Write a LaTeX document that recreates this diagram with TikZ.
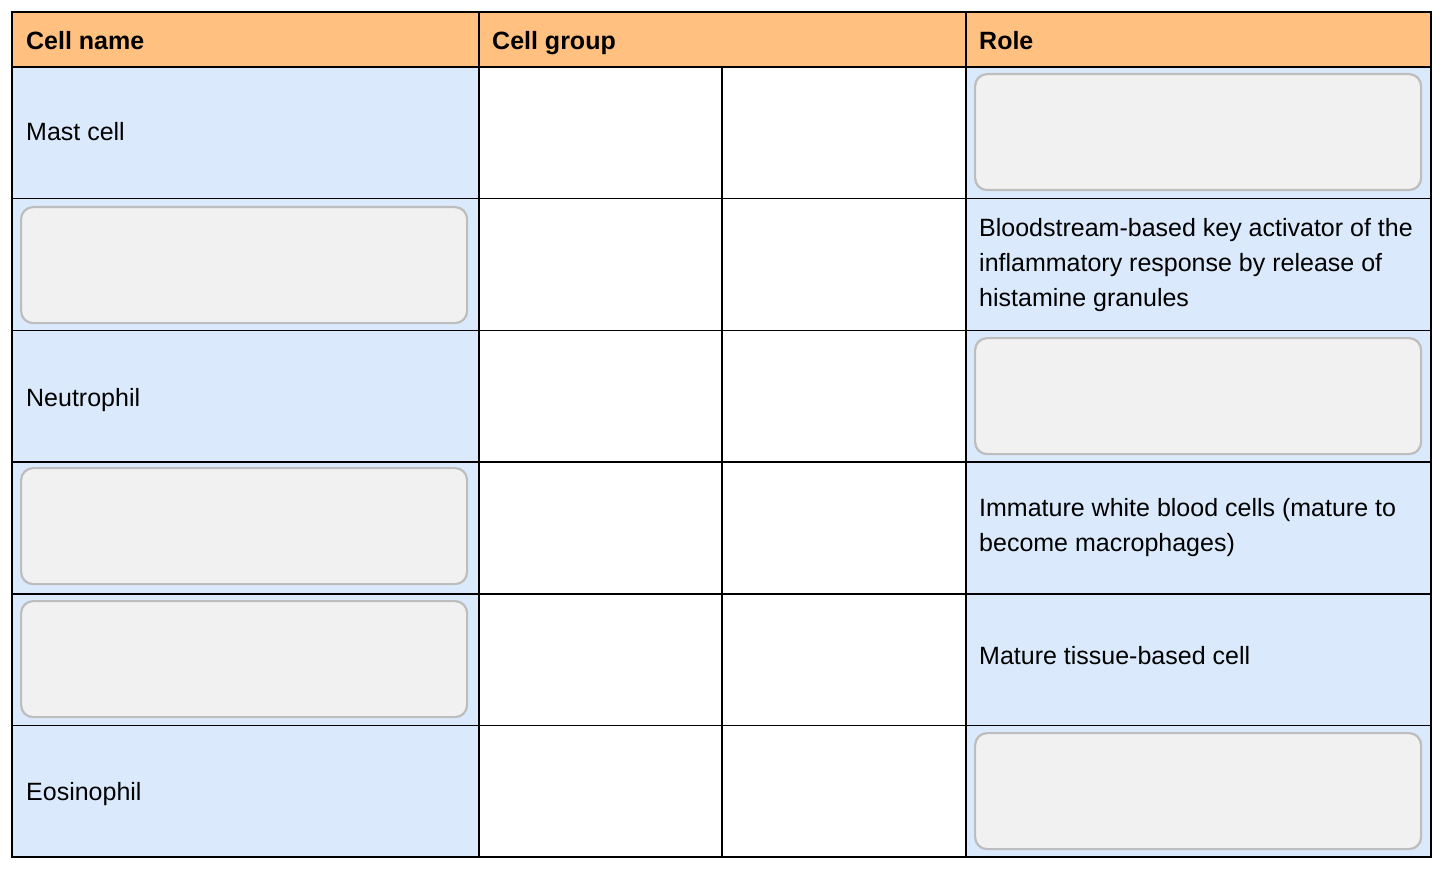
\documentclass[tikz,border=0pt]{standalone}
\usepackage{fontspec}
\setmainfont{Liberation Sans}
\definecolor{headorange}{HTML}{FFC080}
\definecolor{rowblue}{HTML}{DAEAFC}
\definecolor{blankgray}{HTML}{F1F1F1}
\definecolor{blankedge}{HTML}{BDBDBD}

\begin{document}
\begin{tikzpicture}[x=1pt,y=-1pt,
  txt/.style={anchor=base west,inner sep=0pt,align=left,font=\fontsize{25}{35}\selectfont},
  head/.style={txt,font=\fontsize{25}{35}\selectfont\bfseries},
  blank/.style={rectangle,anchor=north west,rounded corners=12pt,fill=blankgray,draw=blankedge,line width=2.2pt,minimum width=446pt,minimum height=116pt},
  grid/.style={line width=1.6pt}]
\useasboundingbox (0,0) rectangle (1452,880);
\fill[headorange] (12,12) rectangle (1431,67);
\fill[rowblue] (12,67) rectangle (479,857);
\fill[rowblue] (966,67) rectangle (1431,857);
\draw[grid] (12,67) -- (1431,67) (12,198.5) -- (1431,198.5) (12,330.5) -- (1431,330.5)
  (12,462) -- (1431,462) (12,594) -- (1431,594) (12,725.5) -- (1431,725.5)
  (479,12) -- (479,857) (722,67) -- (722,857) (966,12) -- (966,857);
\draw[grid,line width=2pt] (12,12) rectangle (1431,857);
\node[head] (hname) at (26,50) {Cell name};
\node[head] (hgroup) at (492,50) {Cell group};
\node[head] (hrole) at (979,50) {Role};
\node[txt] (mast) at (26,141) {Mast cell};
\node[txt] (neutro) at (26,406) {Neutrophil};
\node[txt] (eosino) at (26,800) {Eosinophil};
\node[txt,anchor=west] (rblood) at (979,265) {Bloodstream-based key activator of the\\inflammatory response by release of\\histamine granules};
\node[txt,anchor=west] (rimmat) at (979,528) {Immature white blood cells (mature to\\become macrophages)};
\node[txt] (rmatur) at (979,664) {Mature tissue-based cell};
\node[blank] (nblank2) at (20,206) {};
\node[blank] (nblank4) at (20,467) {};
\node[blank] (nblank5) at (20,600) {};
\node[blank] (rblank1) at (974,73) {};
\node[blank] (rblank3) at (974,337) {};
\node[blank] (rblank6) at (974,732) {};
\end{tikzpicture}
\end{document}
